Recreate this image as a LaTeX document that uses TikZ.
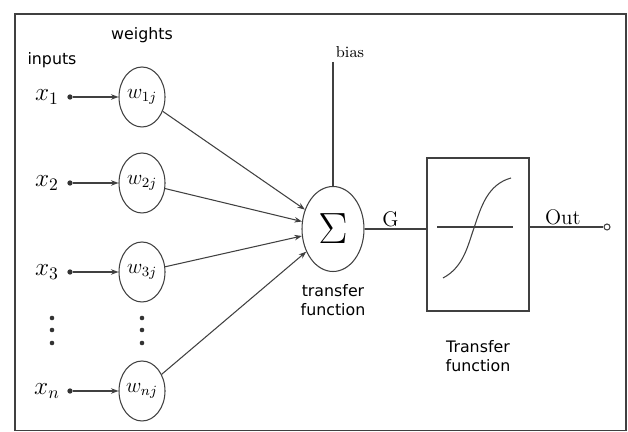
\documentclass[tikz,border=0pt]{standalone}
\usepackage{fontspec}
\setsansfont{DejaVu Sans}
\usepackage{tikz}
\usetikzlibrary{shapes.geometric, arrows.meta, positioning, calc}

\begin{document}
\begin{tikzpicture}[
    font=\sffamily\small,
    >={Stealth[length=1.5mm, width=1.1mm]},
    wire/.style={draw=black!75, semithick},
    weightnode/.style={draw=black!75, semithick, ellipse, minimum width=0.92cm, minimum height=1.2cm, inner sep=0pt, font=\large},
    sumnode/.style={draw=black!75, semithick, ellipse, minimum width=1.24cm, minimum height=1.70cm, inner sep=0pt},
    innode/.style={font=\Large, inner sep=1pt},
    tapdot/.style={circle, fill=black!80, minimum size=3pt, inner sep=0pt},
    vdot/.style={circle, fill=black!80, minimum size=2.6pt, inner sep=0pt},
    seriflbl/.style={font=\rmfamily\large, inner sep=1pt},
]
\useasboundingbox (0,0) rectangle (12.56,8.64);

% --- Outer frame ---
\draw[black!75, line width=1.1pt] (0.30,0.03) rectangle (12.52,8.36);

% --- Column headings ---
\node (lblin) at (1.04,7.44) {inputs};
\node (lblw)  at (2.84,7.94) {weights};

% --- Inputs, tap dots and weights ---
\foreach \i/\lab/\wl/\y in {1/1/1j/6.70, 2/2/2j/4.98, 3/3/3j/3.20, n/n/nj/0.82}{
    \node[innode] (x\i) at (0.94,\y) {$x_{\lab}$};
    \node[tapdot] (d\i) at (1.40,\y) {};
    \node[weightnode] (w\i) at (2.84,\y) {$w_{\wl}$};
    \draw[wire, ->] (d\i) -- (w\i);
}

% --- Vertical ellipsis between x3 and xn ---
\foreach \y in {2.28,2.04,1.78}{
    \node[vdot] at (1.04,\y) {};
    \node[vdot] at (2.84,\y) {};
}

% --- Summing junction ---
\node[sumnode] (sigma) at (6.66,4.06) {\fontsize{28}{30}\selectfont$\Sigma$};
\node[align=center, below=0.12cm of sigma] (sumlbl) {transfer\\function};
\foreach \i in {1,2,3,n}{ \draw[wire, ->] (w\i) -- (sigma); }

% --- Bias input from above ---
\coordinate (biastop) at (6.66,7.40);
\node[font=\rmfamily\small, inner sep=1pt] (bias) at (7.00,7.60) {bias};
\draw[wire] (biastop) -- (sigma.north);

% --- Activation block with sigmoid ---
\node[draw=black!75, semithick, minimum width=2.04cm, minimum height=3.06cm] (act) at (9.56,3.95) {};
\node[align=center, below=0.45cm of act] (actlbl) {Transfer\\function};
\draw[black!75, semithick] (8.74,4.10) -- (10.26,4.10);
\draw[black!75, semithick] (8.86,3.08) .. controls (9.28,3.30) and (9.36,3.75) .. (9.48,4.08)
    .. controls (9.62,4.50) and (9.75,4.95) .. (10.22,5.08);

% --- G connector and output ---
\draw[wire] (sigma.east) -- node[seriflbl, above, pos=0.42] (glbl) {G} (sigma.east -| act.west);
\node[circle, draw=black!75, semithick, minimum size=0.12cm, inner sep=0pt] (outpin) at (12.14,4.10) {};
\draw[wire] (outpin -| act.east) -- node[seriflbl, above, pos=0.45] (outlbl) {Out} (outpin);

\end{tikzpicture}
\end{document}
